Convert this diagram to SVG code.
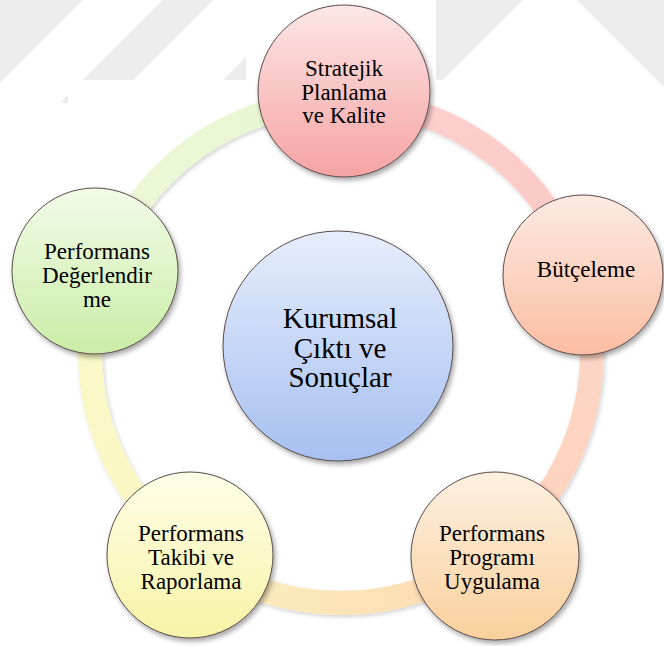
<svg xmlns="http://www.w3.org/2000/svg" width="664" height="646" viewBox="0 0 664 646">
  <style>
    .node-border { stroke: #5a4b4b; stroke-width: 1; }
    .label { font-family: "Liberation Serif", "Times New Roman", serif; font-size: 23px; fill: #000; text-anchor: middle; }
    .label-big { font-family: "Liberation Serif", "Times New Roman", serif; font-size: 29px; fill: #000; text-anchor: middle; }
    .ring { fill: none; stroke-width: 24; stroke-linecap: butt; }
    .stripe { fill: #ececec; }
  </style>
  <defs>
    <filter id="shadow" x="-20%" y="-20%" width="140%" height="140%">
      <feDropShadow dx="2" dy="3" stdDeviation="2.5" flood-color="#000" flood-opacity="0.35"/>
    </filter>
    <filter id="ringShadow" x="-10%" y="-10%" width="120%" height="120%">
      <feDropShadow dx="1.5" dy="2" stdDeviation="2" flood-color="#000" flood-opacity="0.18"/>
    </filter>
    <!-- node fills: light at the top, deeper at the bottom -->
    <linearGradient id="gRed" x1="0" y1="0" x2="0" y2="1">
      <stop offset="0" stop-color="#fde6e6"/>
      <stop offset="1" stop-color="#f6a3a3"/>
    </linearGradient>
    <linearGradient id="gSalmon" x1="0" y1="0" x2="0" y2="1">
      <stop offset="0" stop-color="#fdeae2"/>
      <stop offset="1" stop-color="#fbbda2"/>
    </linearGradient>
    <linearGradient id="gOrange" x1="0" y1="0" x2="0" y2="1">
      <stop offset="0" stop-color="#fdf0e0"/>
      <stop offset="1" stop-color="#f9d09c"/>
    </linearGradient>
    <linearGradient id="gYellow" x1="0" y1="0" x2="0" y2="1">
      <stop offset="0" stop-color="#fefee8"/>
      <stop offset="1" stop-color="#f7f3a6"/>
    </linearGradient>
    <linearGradient id="gGreen" x1="0" y1="0" x2="0" y2="1">
      <stop offset="0" stop-color="#f2fbe8"/>
      <stop offset="1" stop-color="#caeda6"/>
    </linearGradient>
    <linearGradient id="gBlue" x1="0" y1="0" x2="0" y2="1">
      <stop offset="0" stop-color="#e6edfc"/>
      <stop offset="1" stop-color="#a6c0f1"/>
    </linearGradient>
    <!-- ring segments blend from one node colour to the next -->
    <linearGradient id="r1" gradientUnits="userSpaceOnUse" x1="341" y1="101" x2="581.5" y2="280.3">
      <stop offset="0" stop-color="#fdd0d0"/>
      <stop offset="1" stop-color="#fcc9c2"/>
    </linearGradient>
    <linearGradient id="r2" gradientUnits="userSpaceOnUse" x1="581.5" y1="280.3" x2="495.5" y2="549.8">
      <stop offset="0" stop-color="#fdd6ca"/>
      <stop offset="1" stop-color="#fcd2b8"/>
    </linearGradient>
    <linearGradient id="r3" gradientUnits="userSpaceOnUse" x1="495.5" y1="549.8" x2="189.9" y2="552.5">
      <stop offset="0" stop-color="#fcd8b0"/>
      <stop offset="1" stop-color="#fbf0c0"/>
    </linearGradient>
    <linearGradient id="r4" gradientUnits="userSpaceOnUse" x1="189.9" y1="552.5" x2="103.1" y2="271.9">
      <stop offset="0" stop-color="#fbf6c2"/>
      <stop offset="1" stop-color="#f8f9c8"/>
    </linearGradient>
    <linearGradient id="r5" gradientUnits="userSpaceOnUse" x1="103.1" y1="271.9" x2="341" y2="101">
      <stop offset="0" stop-color="#eef8d6"/>
      <stop offset="1" stop-color="#e6f6d2"/>
    </linearGradient>
  </defs>

  <rect width="664" height="646" fill="#ffffff"/>

  <!-- faint striped background band along the top edge -->
  <g id="background">
    <polygon class="stripe" points="0,0 83,0 0,83"/>
    <polygon class="stripe" points="163,0 213,0 110,103 60,103"/>
    <polygon class="stripe" points="303,0 353,0 250,103 200,103"/>
    <polygon class="stripe" points="423,0 523,0 420,103 320,103"/>
    <polygon class="stripe" points="577,0 664,0 664,87"/>
    <rect x="246" y="0" width="190" height="110" fill="#ffffff"/>
    <rect x="68" y="80" width="547" height="30" fill="#ffffff"/>
  </g>

  <!-- cycle ring -->
  <g id="connectors" filter="url(#ringShadow)">
    <path class="ring" stroke="url(#r1)" d="M341,101 A251,251 0 0 1 581.5,280.3"/>
    <path class="ring" stroke="url(#r2)" d="M581.5,280.3 A251,251 0 0 1 495.5,549.8"/>
    <path class="ring" stroke="url(#r3)" d="M495.5,549.8 A251,251 0 0 1 189.9,552.5"/>
    <path class="ring" stroke="url(#r4)" d="M189.9,552.5 A251,251 0 0 1 103.1,271.9"/>
    <path class="ring" stroke="url(#r5)" d="M103.1,271.9 A251,251 0 0 1 341,101"/>
  </g>

  <g id="node-center">
    <circle class="node-border" cx="338" cy="346" r="115" fill="url(#gBlue)" filter="url(#shadow)"/>
    <text class="label-big" x="340" y="328">Kurumsal</text>
    <text class="label-big" x="340" y="358">Çıktı ve</text>
    <text class="label-big" x="340" y="387">Sonuçlar</text>
  </g>

  <g id="node-strategic-planning">
    <circle class="node-border" cx="344" cy="91" r="86" fill="url(#gRed)" filter="url(#shadow)"/>
    <text class="label" x="344" y="76">Stratejik</text>
    <text class="label" x="344" y="99.5">Planlama</text>
    <text class="label" x="344" y="123">ve Kalite</text>
  </g>

  <g id="node-budgeting">
    <circle class="node-border" cx="583" cy="275" r="80" fill="url(#gSalmon)" filter="url(#shadow)"/>
    <text class="label" x="586" y="277">Bütçeleme</text>
  </g>

  <g id="node-program">
    <circle class="node-border" cx="495" cy="556" r="84" fill="url(#gOrange)" filter="url(#shadow)"/>
    <text class="label" x="492" y="541">Performans</text>
    <text class="label" x="492" y="565">Programı</text>
    <text class="label" x="492" y="589">Uygulama</text>
  </g>

  <g id="node-monitoring">
    <circle class="node-border" cx="190" cy="555" r="83" fill="url(#gYellow)" filter="url(#shadow)"/>
    <text class="label" x="191" y="541">Performans</text>
    <text class="label" x="191" y="565">Takibi ve</text>
    <text class="label" x="191" y="589">Raporlama</text>
  </g>

  <g id="node-evaluation">
    <circle class="node-border" cx="95" cy="271" r="83" fill="url(#gGreen)" filter="url(#shadow)"/>
    <text class="label" x="97" y="259">Performans</text>
    <text class="label" x="97" y="283">Değerlendir</text>
    <text class="label" x="97" y="307">me</text>
  </g>
</svg>
